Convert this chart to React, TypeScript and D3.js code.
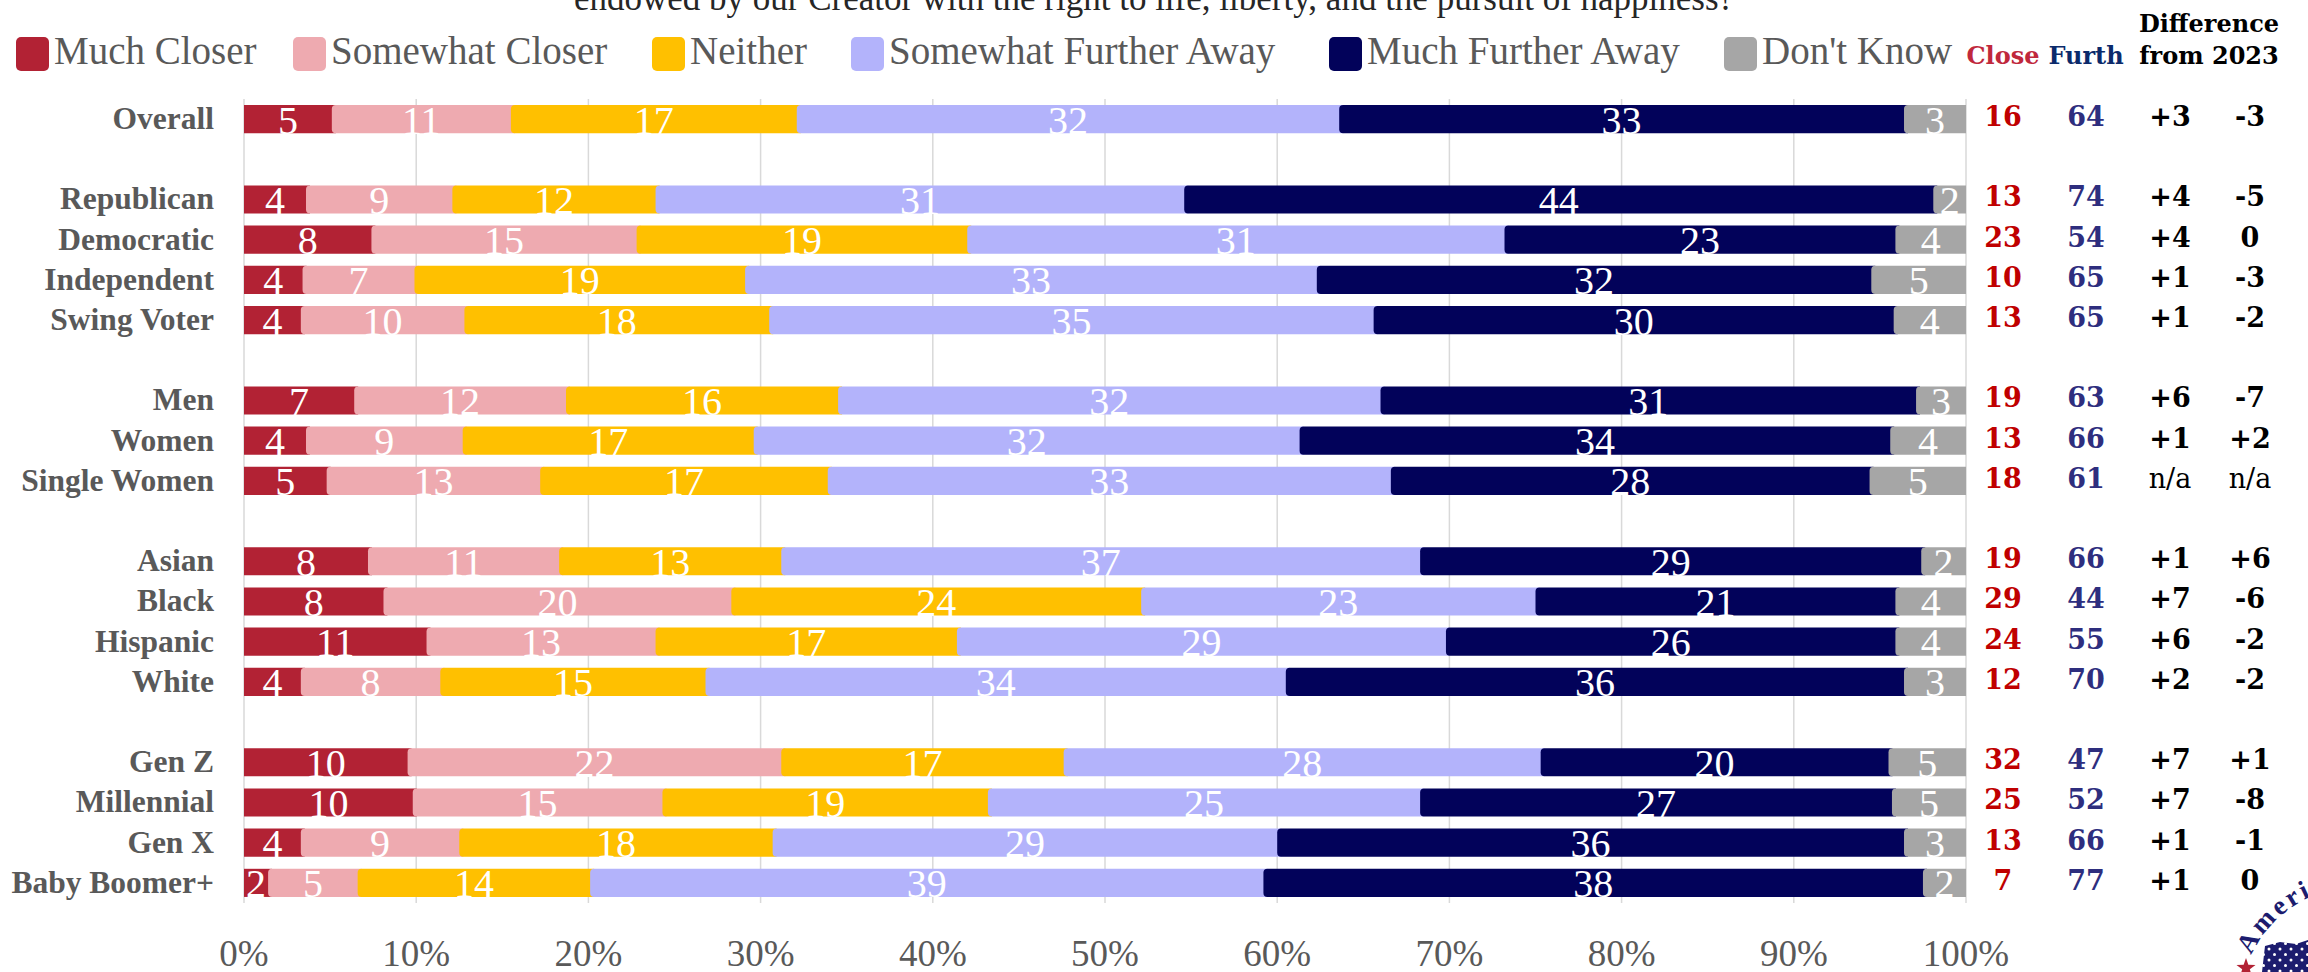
import React from "react";
import * as d3 from "d3";

// ---------- data ----------
const categories = [
  "Overall", "",
  "Republican", "Democratic", "Independent", "Swing Voter", "",
  "Men", "Women", "Single Women", "",
  "Asian", "Black", "Hispanic", "White", "",
  "Gen Z", "Millennial", "Gen X", "Baby Boomer+",
];
const seriesNames = ["Much Closer", "Somewhat Closer", "Neither", "Somewhat Further Away", "Much Further Away", "Don't Know"];
const seriesColors = ["#b22234", "#eeaab0", "#ffc000", "#b3b3fb", "#02025a", "#a6a6a6"];

// segment shares (%)
const muchCloser = [5.1, 3.6, 7.4, 3.4, 3.3, 6.4, 3.6, 4.8, 7.2, 8.1, 10.6, 3.3, 9.5, 9.8, 3.3, 1.4];
const somewhatCloser = [10.4, 8.5, 15.4, 6.5, 9.5, 12.3, 9.1, 12.4, 11.1, 20.2, 13.3, 8.1, 21.7, 14.5, 9.2, 5.2];
const neither = [16.6, 11.8, 19.2, 19.2, 17.7, 15.8, 16.9, 16.7, 12.9, 23.8, 17.5, 15.4, 16.4, 18.9, 18.2, 13.5];
const somewhatFurther = [31.5, 30.7, 31.2, 33.2, 35.1, 31.5, 31.7, 32.7, 37.1, 22.9, 28.4, 33.7, 27.7, 25.1, 29.3, 39.1];
const muchFurther = [32.8, 43.5, 22.7, 32.2, 30.2, 31.1, 34.3, 27.8, 29.1, 20.9, 26.1, 35.9, 20.2, 27.4, 36.4, 38.3];
const dontKnow = [3.6, 1.9, 4.1, 5.5, 4.2, 2.9, 4.4, 5.6, 2.6, 4.1, 4.1, 3.6, 4.5, 4.3, 3.6, 2.5];

// data labels shown on the segments
const muchCloserLabel = [5, 4, 8, 4, 4, 7, 4, 5, 8, 8, 11, 4, 10, 10, 4, 2];
const somewhatCloserLabel = [11, 9, 15, 7, 10, 12, 9, 13, 11, 20, 13, 8, 22, 15, 9, 5];
const neitherLabel = [17, 12, 19, 19, 18, 16, 17, 17, 13, 24, 17, 15, 17, 19, 18, 14];
const somewhatFurtherLabel = [32, 31, 31, 33, 35, 32, 32, 33, 37, 23, 29, 34, 28, 25, 29, 39];
const muchFurtherLabel = [33, 44, 23, 32, 30, 31, 34, 28, 29, 21, 26, 36, 20, 27, 36, 38];
const dontKnowLabel = [3, 2, 4, 5, 4, 3, 4, 5, 2, 4, 4, 3, 5, 5, 3, 2];

const closeTotals = [16, 13, 23, 10, 13, 19, 13, 18, 19, 29, 24, 12, 32, 25, 13, 7];
const furtherTotals = [64, 74, 54, 65, 65, 63, 66, 61, 66, 44, 55, 70, 47, 52, 66, 77];
const diffCloser = ["+3", "+4", "+4", "+1", "+1", "+6", "+1", "n/a", "+1", "+7", "+6", "+2", "+7", "+7", "+1", "+1"];
const diffFurther = ["-3", "-5", "0", "-3", "-2", "-7", "+2", "n/a", "+6", "-6", "-2", "-2", "+1", "-8", "-1", "0"];

const xTicks = [0, 0.1, 0.2, 0.3, 0.4, 0.5, 0.6, 0.7, 0.8, 0.9, 1];

const titleText = "endowed by our Creator with the right to life, liberty, and the pursuit of happiness?";
const headerClose = "Close";
const headerFurther = "Furth";
const headerDiff = ["Difference", "from 2023"];
const logoText = "American Perspectives";

// ---------- layout ----------
const W = 2308;
const H = 972;
const SERIF = "'Liberation Serif', 'Times New Roman', serif";
const COLSERIF = "'DejaVu Serif', 'Liberation Serif', serif";
const GREY = "#595959";

const seriesArrays = [muchCloser, somewhatCloser, neither, somewhatFurther, muchFurther, dontKnow];
const labelArrays = [muchCloserLabel, somewhatCloserLabel, neitherLabel, somewhatFurtherLabel, muchFurtherLabel, dontKnowLabel];
const rowSlots = categories.map((c, i) => (c ? i : -1)).filter((i) => i >= 0);
const table = rowSlots.map((slot, r) => {
  const o: any = { slot, label: categories[slot] };
  seriesNames.forEach((s, k) => (o[s] = seriesArrays[k][r]));
  return o;
});

const stacked = d3.stack<any>().keys(seriesNames).offset(d3.stackOffsetExpand)(table);

const x = d3.scaleLinear().domain([0, 1]).range([244, 1966]);
const step = 40.2;
const y = d3
  .scaleBand<number>()
  .domain(d3.range(categories.length))
  .range([105, 105 + step * (categories.length - 0.3)])
  .paddingInner(0.3)
  .paddingOuter(0);

const colX = [2003, 2086, 2170, 2250];
const legendX = [16, 293, 652, 851, 1329, 1724];

function segPath(x0: number, x1: number, y0: number, h: number, r: number, roundLeft: boolean) {
  if (!roundLeft) return `M${x0},${y0}H${x1}V${y0 + h}H${x0}Z`;
  return `M${x0 + r},${y0}H${x1}V${y0 + h}H${x0 + r}Q${x0},${y0 + h} ${x0},${y0 + h - r}V${y0 + r}Q${x0},${y0} ${x0 + r},${y0}Z`;
}

function starPoints(cx: number, cy: number, R: number, r: number) {
  const pts: string[] = [];
  for (let i = 0; i < 10; i++) {
    const a = -Math.PI / 2 + (i * Math.PI) / 5;
    const rr = i % 2 === 0 ? R : r;
    pts.push(`${cx + rr * Math.cos(a)},${cy + rr * Math.sin(a)}`);
  }
  return pts.join(" ");
}

export default function App() {
  const bw = y.bandwidth();
  const gridTop = 99;
  const gridBottom = (y(categories.length - 1) as number) + bw + 6;

  // logo arc
  const lc = { x: 2360, y: 1006 };
  const lr = 120;
  const a0 = (205 * Math.PI) / 180;
  const a1 = (330 * Math.PI) / 180;
  const arcD = `M${lc.x + lr * Math.cos(a0)},${lc.y + lr * Math.sin(a0)} A${lr},${lr} 0 0 1 ${lc.x + lr * Math.cos(a1)},${lc.y + lr * Math.sin(a1)}`;

  return (
    <svg width={W} height={H} viewBox={`0 0 ${W} ${H}`} style={{ position: "absolute", left: 0, top: 0, background: "#fff" }}>
      <defs>
        <path id="logoArc" d={arcD} />
        <pattern id="starsPat" width="11" height="11" patternUnits="userSpaceOnUse">
          <rect width="11" height="11" fill="#1c1c6e" />
          <circle cx="3" cy="3" r="1.5" fill="#fff" />
          <circle cx="8.5" cy="8.5" r="1.5" fill="#fff" />
        </pattern>
      </defs>
      <rect width={W} height={H} fill="#fff" />

      {/* title (clipped at top) */}
      <text x={1154} y={10} textAnchor="middle" fontFamily={SERIF} fontSize={35} fill="#262626">
        {titleText}
      </text>

      {/* legend */}
      {seriesNames.map((s, i) => (
        <g key={s}>
          <rect x={legendX[i]} y={37} width={33} height={34} rx={5} fill={seriesColors[i]} />
          <text x={legendX[i] + 38} y={64} fontFamily={SERIF} fontSize={39} fill={GREY}>
            {s}
          </text>
        </g>
      ))}
      <text x={colX[0]} y={64} textAnchor="middle" fontFamily={COLSERIF} fontWeight="bold" fontSize={24} fill="#c0283c">
        {headerClose}
      </text>
      <text x={colX[1]} y={64} textAnchor="middle" fontFamily={COLSERIF} fontWeight="bold" fontSize={24} fill="#0b2a6b">
        {headerFurther}
      </text>
      <text x={2209} y={32} textAnchor="middle" fontFamily={COLSERIF} fontWeight="bold" fontSize={24} fill="#000">
        {headerDiff[0]}
      </text>
      <text x={2209} y={64} textAnchor="middle" fontFamily={COLSERIF} fontWeight="bold" fontSize={24} fill="#000">
        {headerDiff[1]}
      </text>

      {/* gridlines */}
      {xTicks.map((t) => (
        <line key={t} x1={x(t)} x2={x(t)} y1={gridTop} y2={gridBottom} stroke="#d9d9d9" strokeWidth={1.5} />
      ))}

      {/* bars */}
      {stacked.map((layer, k) => (
        <g key={layer.key} fill={seriesColors[k]}>
          {layer.map((d, r) => {
            const slot = table[r].slot;
            const y0 = y(slot) as number;
            const xs = x(d[0]);
            const xe = x(d[1]);
            const last = k === stacked.length - 1;
            return <path key={r} d={segPath(xs, last ? xe : xe + 4, y0, bw, 4, k > 0)} />;
          })}
        </g>
      ))}

      {/* segment labels */}
      {stacked.map((layer, k) => (
        <g key={"l" + layer.key}>
          {layer.map((d, r) => {
            const slot = table[r].slot;
            const y0 = y(slot) as number;
            return (
              <text
                key={r}
                x={(x(d[0]) + x(d[1])) / 2}
                y={y0 + bw + 0.5}
                textAnchor="middle"
                fontFamily={SERIF}
                fontSize={40}
                fill="#fff"
              >
                {labelArrays[k][r]}
              </text>
            );
          })}
        </g>
      ))}

      {/* category labels */}
      {table.map((row) => (
        <text
          key={row.label}
          x={214}
          y={(y(row.slot) as number) + bw / 2 + 10}
          textAnchor="end"
          fontFamily={SERIF}
          fontWeight="bold"
          fontSize={31.5}
          fill={GREY}
        >
          {row.label}
        </text>
      ))}

      {/* right-hand columns */}
      {table.map((row, r) => {
        const yy = (y(row.slot) as number) + bw / 2 + 7;
        const cols = [closeTotals[r], furtherTotals[r], diffCloser[r], diffFurther[r]];
        const fills = ["#c00000", "#2e2e7e", "#000", "#000"];
        return (
          <g key={"c" + r}>
            {cols.map((v, j) => (
              <text
                key={j}
                x={colX[j]}
                y={yy}
                textAnchor="middle"
                fontFamily={COLSERIF}
                fontWeight={v === "n/a" ? "normal" : "bold"}
                fontSize={27}
                fill={fills[j]}
              >
                {v}
              </text>
            ))}
          </g>
        );
      })}

      {/* x axis labels */}
      {xTicks.map((t) => (
        <text key={"t" + t} x={x(t)} y={966} textAnchor="middle" fontFamily={SERIF} fontSize={37} fill={GREY}>
          {d3.format(".0%")(t)}
        </text>
      ))}

      {/* logo (partially visible) */}
      <path d="M2265,946 L2280,942 L2296,944 L2308,940 L2308,972 L2262,972 Z" fill="url(#starsPat)" />
      <text fontFamily={SERIF} fontWeight="bold" fontSize={27} fill="#1c1c6e" letterSpacing={3}>
        <textPath href="#logoArc">{logoText}</textPath>
      </text>
      <polygon points={starPoints(2246, 968, 10, 4)} fill="#b22234" />
    </svg>
  );
}
